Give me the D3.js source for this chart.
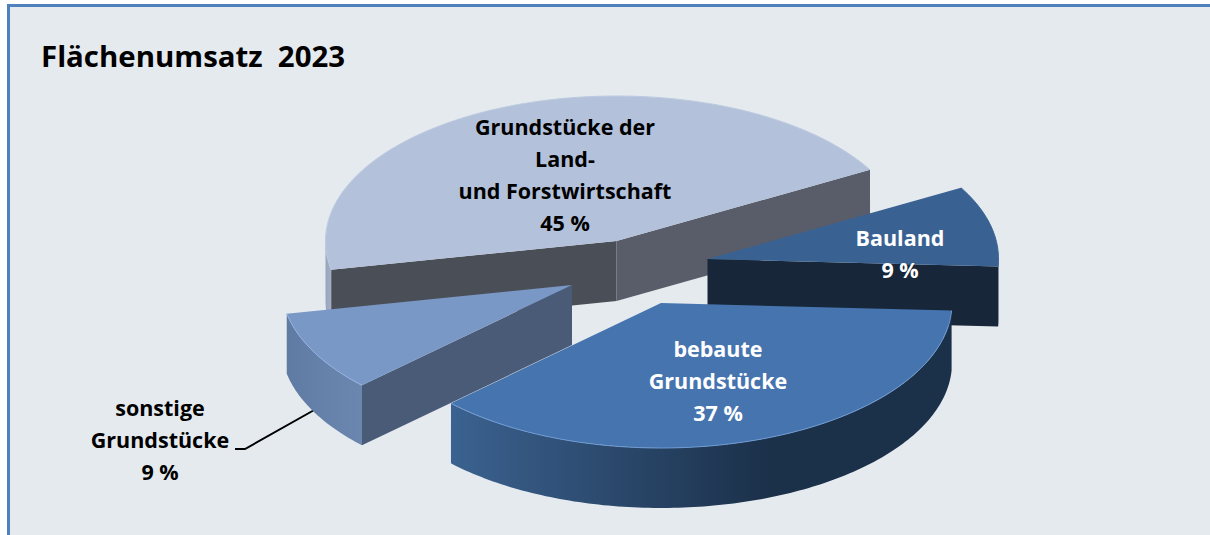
<!DOCTYPE html>
<html><head><meta charset="utf-8">
<script src="https://cdn.jsdelivr.net/npm/d3@7/dist/d3.min.js"></script>
<style>html,body{margin:0;padding:0;background:#fff}svg{display:block}text{font-family:"Open Sans",Lato,sans-serif;font-weight:700}</style>
</head><body><svg id="c" width="1210" height="535"></svg>
<script>
// ---- data ----
const categories = ["Grundstücke der Land- und Forstwirtschaft","Bauland","bebaute Grundstücke","sonstige Grundstücke"];
const shares = [45, 9, 37, 9];
const labelLines = [["Grundstücke der","Land-","und Forstwirtschaft","45 %"],["Bauland","9 %"],["bebaute","Grundstücke","37 %"],["sonstige","Grundstücke","9 %"]];
const titleText = "Flächenumsatz\u00a0\u00a02023";

// ---- layout & style ----
const W = 1210, H = 535, rx = 291, ry = 145, depth = 60;
const rad = d => d * Math.PI / 180;
const startDeg = 258.6;
const apexes = [[616.5,241],[707.5,259],[661,303],[572,285]];
const labelAnchors = [[565,135],[900,246],[718,357],[160,416]];
const labelColors = ["#000","#fff","#fff","#000"];
const topColors = ["#b3c2da","#396293","#4674ae","#7a98c5"];
const edgeColors = ["#bccae0","#3c6698","#6f9ad2","#93b3e2"];
const cutColors = [["#4a4e57","#585d69"],["#182639"],[],["#4a5b78"]];
const wallStops = [["#98a5bd","#a3afc6"],["#182639","#182639"],["#3b6290","#1b3049"],["#5f7ba4","#6c87af"]];
const paintOrder = [0,1,3,2];

const svg = d3.select("#c");
const defs = svg.append("defs");
svg.append("rect").attr("x",8.5).attr("y",5.5).attr("width",W).attr("height",H)
  .attr("fill","#e5eaef").attr("stroke","#4f81bd").attr("stroke-width",3);

svg.append("text").attr("x",41).attr("y",66.5).attr("font-size",29.4).attr("fill","#000").text(titleText);

// leader line for the small slice
svg.append("path").attr("d",d3.line()([[235,449],[245,449],[316,409]]))
  .attr("fill","none").attr("stroke","#000").attr("stroke-width",2);

const arcs = d3.pie().sort(null).value(d=>d)
  .startAngle(rad(startDeg)).endAngle(rad(startDeg+360))(shares);

const pt = (c,a,r=1,dz=0)=>[c[0]+r*rx*Math.sin(a), c[1]-r*ry*Math.cos(a)+dz];
const line = d3.line();
const topArc = d3.arc().innerRadius(0).outerRadius(rx);

function sampled(c,a0,a1,dz=0){
  const n = Math.max(2,Math.ceil(Math.abs(a1-a0)/rad(1)));
  return d3.range(n+1).map(i=>pt(c,a0+(a1-a0)*i/n,1,dz));
}

paintOrder.forEach(i=>{
  const d = arcs[i], c = apexes[i], g = svg.append("g");
  const a0 = d.startAngle, a1 = d.endAngle;
  // outer wall: only the front half (90°..270°) faces the viewer
  [[rad(90),rad(270)],[rad(450),rad(630)]].forEach(([lo,hi])=>{
    const s = Math.max(a0,lo), e = Math.min(a1,hi);
    if (e <= s) return;
    const top = sampled(c,s,e), bottom = sampled(c,e,s,depth);
    const id = "wall"+i;
    const xs = top.map(p=>p[0]);
    const grad = defs.append("linearGradient").attr("id",id).attr("gradientUnits","userSpaceOnUse")
      .attr("x1",d3.min(xs)).attr("x2",i===2?c[0]+0.38*rx:d3.max(xs)).attr("y1",0).attr("y2",0);
    grad.append("stop").attr("offset",0).attr("stop-color",wallStops[i][0]);
    grad.append("stop").attr("offset",1).attr("stop-color",wallStops[i][1]);
    g.append("path").attr("d",line(top.concat(bottom))+"Z").attr("fill",`url(#${id})`);
  });
  // radial cut faces that face the viewer
  const cuts = i===0 ? [a0,a1] : i===1 ? [a1] : i===3 ? [a0] : [];
  cuts.forEach((a,k)=>{
    const p = pt(c,a);
    g.append("path").attr("d",line([c,p,[p[0],p[1]+depth],[c[0],c[1]+depth]])+"Z").attr("fill",cutColors[i][k]);
  });
  // top face
  g.append("path").attr("d",topArc(d))
    .attr("transform",`translate(${c[0]},${c[1]}) scale(1,${ry/rx})`).attr("fill",topColors[i]);
  // light rim on the front of the top face
  g.append("path").attr("d",line(sampled(c,a0,a1))).attr("fill","none")
    .attr("stroke",edgeColors[i]).attr("stroke-width",1);
});

// labels
labelLines.forEach((lines,i)=>{
  svg.append("text").attr("text-anchor","middle").attr("font-size",21.5).attr("fill",labelColors[i])
    .attr("aria-label",categories[i])
    .selectAll("tspan").data(lines).join("tspan")
    .attr("x",labelAnchors[i][0]).attr("y",(l,j)=>labelAnchors[i][1]+j*32).text(l=>l);
});
</script></body></html>
